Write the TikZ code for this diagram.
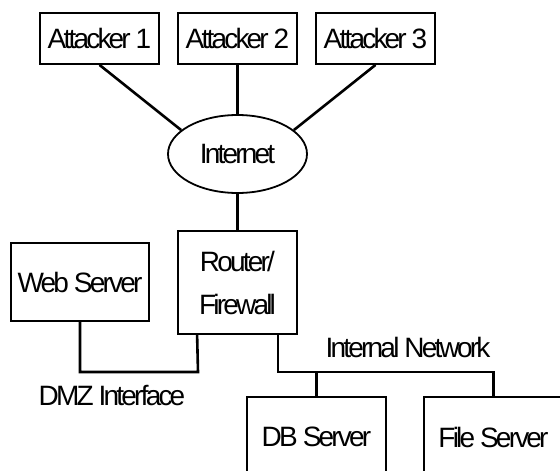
\documentclass[tikz,border=0pt]{standalone}
\usepackage{fontspec}
\setmainfont{Liberation Sans}[LetterSpace=-10]
\usetikzlibrary{shapes.geometric}
\begin{document}
\begin{tikzpicture}[x=1pt,y=-1pt,
  every node/.style={font=\fontsize{28}{43}\selectfont, inner sep=0pt},
  box/.style={draw, line width=1.8pt, rectangle, align=center},
  link/.style={line width=2.6pt},
  lbl/.style={}]
\clip (0,0) rectangle (560,471);
\fill[white] (0,0) rectangle (560,471);
\node[box, minimum width=119pt, minimum height=51pt] (a1) at (99.5,38.5) {Attacker 1};
\node[box, minimum width=119pt, minimum height=51pt] (a2) at (237.5,38.5) {Attacker 2};
\node[box, minimum width=119pt, minimum height=51pt] (a3) at (375.5,38.5) {Attacker 3};
\node[draw, ellipse, line width=1.8pt, minimum width=139pt, minimum height=78pt] (inet) at (237.5,154) {Internet};
\node[box, minimum width=119pt, minimum height=103pt] (router) at (237.5,282.5) {Router/\\Firewall};
\node[box, minimum width=138pt, minimum height=78pt] (web) at (80,282) {Web Server};
\node[box, minimum width=139pt, minimum height=80pt] (db) at (316.5,437) {DB Server};
\node[box, minimum width=139pt, minimum height=80pt] (file) at (493.5,437) {File Server};
\node[lbl] (dmz) at (112,396) {DMZ Interface};
\node[lbl] (intn) at (408,347) {Internal Network};
\draw[link] (a1.south) -- (inet.157);
\draw[link] (a2.south) -- (inet.north);
\draw[link] (a3.south) -- (inet.23);
\draw[link] (inet.south) -- (router.north);
\draw[link] (web.south) |- (198,372) -- ([xshift=20pt]router.south west);
\draw[link] ([xshift=-20pt]router.south east) |- (file.north |- 0,372) -- (file.north);
\draw[link] (db.north |- 0,372) -- (db.north);
\end{tikzpicture}
\end{document}
